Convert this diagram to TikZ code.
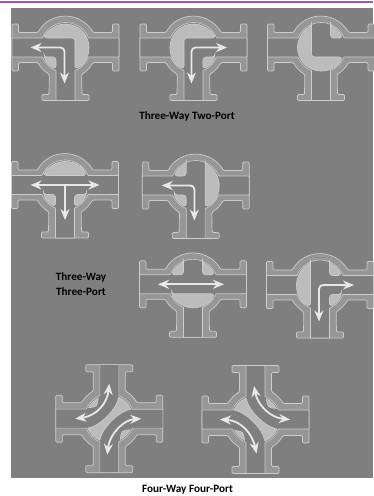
\documentclass[tikz,border=0pt]{standalone}
\usepackage{fontspec}
\setmainfont{Carlito}
\usetikzlibrary{arrows.meta}
\definecolor{PanelGray}{RGB}{127,127,127}
\definecolor{WallGray}{RGB}{150,150,150}
\definecolor{BallGray}{RGB}{188,188,188}
\definecolor{EdgeGray}{RGB}{205,205,205}
\definecolor{FlowWhite}{RGB}{232,232,232}
\definecolor{TopPurple}{RGB}{155,89,182}
\def\ballr{23.5}
\tikzset{
	wall/.style={draw=EdgeGray,fill=WallGray,line width=0.7pt,rounded corners=1.2pt},
	bore/.style={draw=EdgeGray,fill=PanelGray,line width=0.6pt},
	ballpart/.style={draw=EdgeGray,fill=BallGray,line width=0.6pt,rounded corners=3pt},
	flow/.style={draw=FlowWhite,line width=1.8pt,rounded corners=4pt,{Stealth[length=11pt,width=9pt]}-{Stealth[length=11pt,width=9pt]}},
	stem/.style={draw=FlowWhite,line width=1.8pt,-{Stealth[length=11pt,width=9pt]}},
	title/.style={font=\bfseries\fontsize{11.2}{15}\selectfont,text=black,align=center},
	threeway/.pic={
		\draw[wall] (-53.5,23.5)--(-47,23.5)--(-47,15)--(-27.5,15) arc[start angle=151.4,end angle=28.6,radius=31.4]
			--(47,15)--(47,23.5)--(53.5,23.5)--(53.5,-23.5)--(47,-23.5)--(47,-15)--(27.5,-15)
			arc[start angle=-28.6,end angle=-59,radius=31.4]--(16.5,-47)--(23.5,-47)--(23.5,-53)--(-23.5,-53)--(-23.5,-47)--(-16.5,-47)
			--(-16.2,-26.9) arc[start angle=239,end angle=208.6,radius=31.4]--(-47,-15)--(-47,-23.5)--(-53.5,-23.5)--cycle;
		\draw[bore] (-53.5,9.5)--(-23.1,9.5) arc[start angle=157.7,end angle=22.3,radius=25]--(53.5,9.5)--(53.5,-9.5)--(23.1,-9.5)
			arc[start angle=-22.3,end angle=-67.7,radius=25]--(9.5,-53)--(-9.5,-53)--(-9.5,-23.1)
			arc[start angle=-112.3,end angle=-157.7,radius=25]--(-53.5,-9.5)--cycle;
	},
	fourway/.pic={
		\draw[wall] (-53.5,23.5)--(-47,23.5)--(-47,16)--(-27.7,16) arc[start angle=150,end angle=120,radius=32]
			--(-16,47)--(-23.5,47)--(-23.5,54)--(23.5,54)--(23.5,47)--(16,47)--(16,27.7)
			arc[start angle=60,end angle=30,radius=32]--(47,16)--(47,23.5)--(53.5,23.5)--(53.5,-23.5)--(47,-23.5)--(47,-16)--(27.7,-16)
			arc[start angle=-30,end angle=-60,radius=32]--(16,-47)--(23.5,-47)--(23.5,-54)--(-23.5,-54)--(-23.5,-47)--(-16,-47)--(-16,-27.7)
			arc[start angle=240,end angle=210,radius=32]--(-47,-16)--(-47,-23.5)--(-53.5,-23.5)--cycle;
		\draw[bore] (-53.5,9.5)--(-23.1,9.5) arc[start angle=157.7,end angle=112.3,radius=25]--(-9.5,54)--(9.5,54)--(9.5,23.1)
			arc[start angle=67.7,end angle=22.3,radius=25]--(53.5,9.5)--(53.5,-9.5)--(23.1,-9.5)
			arc[start angle=-22.3,end angle=-67.7,radius=25]--(9.5,-54)--(-9.5,-54)--(-9.5,-23.1)
			arc[start angle=-112.3,end angle=-157.7,radius=25]--(-53.5,-9.5)--cycle;
	},
}
% ball pieces, one per corner, and the straight caps
\newcommand{\pieceNW}{\draw[ballpart] (113.8:\ballr)--(-9.5,9.5)--(156.2:\ballr) arc[start angle=156.2,end angle=113.8,radius=\ballr]--cycle;}
\newcommand{\pieceNE}{\draw[ballpart] (66.2:\ballr)--(9.5,9.5)--(23.8:\ballr) arc[start angle=23.8,end angle=66.2,radius=\ballr]--cycle;}
\newcommand{\pieceSW}{\draw[ballpart] (203.8:\ballr)--(-9.5,-9.5)--(246.2:\ballr) arc[start angle=246.2,end angle=203.8,radius=\ballr]--cycle;}
\newcommand{\pieceSE}{\draw[ballpart] (336.2:\ballr)--(9.5,-9.5)--(293.8:\ballr) arc[start angle=293.8,end angle=336.2,radius=\ballr]--cycle;}
\newcommand{\leafNW}{\draw[ballpart,rounded corners=0pt] (152:\ballr) arc[start angle=152,end angle=118,radius=\ballr] .. controls (-12,12) .. (152:\ballr)--cycle;}
\newcommand{\leafNE}{\draw[ballpart,rounded corners=0pt] (28:\ballr) arc[start angle=28,end angle=62,radius=\ballr] .. controls (12,12) .. (28:\ballr)--cycle;}
\newcommand{\leafSW}{\draw[ballpart,rounded corners=0pt] (208:\ballr) arc[start angle=208,end angle=242,radius=\ballr] .. controls (-12,-12) .. (208:\ballr)--cycle;}
\newcommand{\leafSE}{\draw[ballpart,rounded corners=0pt] (332:\ballr) arc[start angle=332,end angle=298,radius=\ballr] .. controls (12,-12) .. (332:\ballr)--cycle;}

\begin{document}
\begin{tikzpicture}[x=1pt,y=1pt]
	\useasboundingbox (0,0) rectangle (373,496);
	\fill[PanelGray] (11,18) rectangle (373,488);
	\draw[TopPurple,line width=1.8pt] (0,494)--(373,494);
	% three-way two-port
	\begin{scope}[shift={(65.5,448.5)}]
		\pic {threeway};
		\draw[ballpart] (156.2:\ballr)--(9.5,9.5)--(293.8:\ballr) arc[start angle=293.8,end angle=516.2,radius=\ballr]--cycle;
		\pieceSW
		\draw[flow] (-35,0)--(-1,0)--(-1,-36);
	\end{scope}
	\begin{scope}[shift={(193.5,448.5)}]
		\pic {threeway};
		\draw[ballpart] (23.8:\ballr)--(-9.5,9.5)--(246.2:\ballr) arc[start angle=246.2,end angle=23.8,radius=\ballr]--cycle;
		\pieceSE
		\draw[flow] (33.5,0)--(-2,0)--(-2,-36);
	\end{scope}
	\begin{scope}[shift={(321,448.5)}]
		\pic {threeway};
		\draw[ballpart] (113.8:\ballr)--(-9.5,-9.5)--(336.2:\ballr) arc[start angle=336.2,end angle=113.8,radius=\ballr]--cycle;
		\pieceNE
	\end{scope}
	\node[title] (twoport) at (187,379.5) {Three-Way Two-Port};
	% three-way three-port
	\begin{scope}[shift={(65,311)}]
		\pic {threeway};
		\draw[ballpart] (156.2:\ballr)--(23.8:\ballr) arc[start angle=23.8,end angle=156.2,radius=\ballr]--cycle;
		\pieceSW
		\pieceSE
		\draw[flow] (-34.5,0)--(34.5,0);
		\draw[stem] (0,0)--(0,-35);
	\end{scope}
	\begin{scope}[shift={(195.7,310.5)}]
		\pic {threeway};
		\draw[ballpart] (66.2:\ballr)--(293.8:\ballr) arc[start angle=293.8,end angle=426.2,radius=\ballr]--cycle;
		\pieceNW
		\pieceSW
		\draw[flow] (-34,0)--(-1.3,0)--(-1.3,-35);
	\end{scope}
	\begin{scope}[shift={(193,211.7)}]
		\pic {threeway};
		\draw[ballpart] (203.8:\ballr)--(336.2:\ballr) arc[start angle=336.2,end angle=203.8,radius=\ballr]--cycle;
		\pieceNW
		\pieceNE
		\draw[flow] (-35,0)--(31,0);
	\end{scope}
	\begin{scope}[shift={(320,211)}]
		\pic {threeway};
		\draw[ballpart] (113.8:\ballr)--(246.2:\ballr) arc[start angle=246.2,end angle=113.8,radius=\ballr]--cycle;
		\pieceNE
		\pieceSE
		\draw[flow] (34,0)--(-1,0)--(-1,-36.5);
	\end{scope}
	\node[title] (threeport) at (81,211.5) {Three-Way\\Three-Port};
	% four-way four-port
	\begin{scope}[shift={(109.3,77.3)}]
		\pic {fourway};
		\draw[ballpart,rounded corners=0pt] (66.2:\ballr) .. controls (7,9) and (-9,-7) .. (203.8:\ballr)
			arc[start angle=203.8,end angle=246.2,radius=\ballr]
			.. controls (-7,-9) and (9,7) .. (23.8:\ballr) arc[start angle=23.8,end angle=66.2,radius=\ballr]--cycle;
		\leafNW
		\leafSE
		\draw[flow] (-34,0) .. controls (-12,3) and (-2,16) .. (0,35);
		\draw[flow] (32,0) .. controls (14,-1) and (0,-16) .. (-2,-36);
	\end{scope}
	\begin{scope}[shift={(255.5,76.5)}]
		\pic {fourway};
		\draw[ballpart,rounded corners=0pt] (113.8:\ballr) .. controls (-7,9) and (9,-7) .. (336.2:\ballr)
			arc[start angle=336.2,end angle=293.8,radius=\ballr]
			.. controls (7,-9) and (-9,7) .. (156.2:\ballr) arc[start angle=156.2,end angle=113.8,radius=\ballr]--cycle;
		\leafNE
		\leafSW
		\draw[flow] (-35.5,0) .. controls (-14,-1) and (-3,-15) .. (1,-34);
		\draw[flow] (-1.5,33.5) .. controls (2,15) and (14,2) .. (34.5,0);
	\end{scope}
	\node[title] (fourport) at (187.5,6) {Four-Way Four-Port};
\end{tikzpicture}
\end{document}
